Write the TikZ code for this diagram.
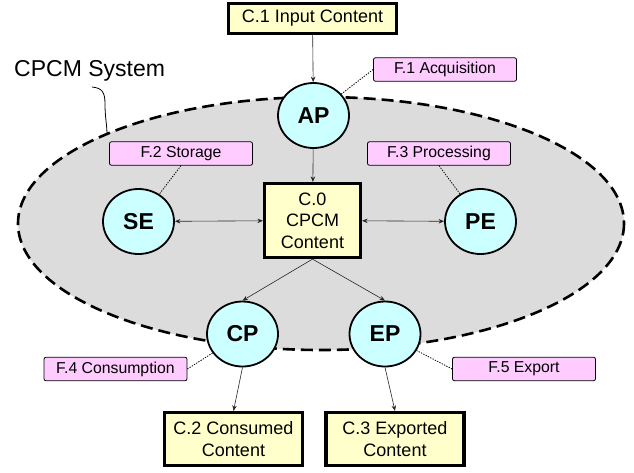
\documentclass[tikz,border=0pt]{standalone}
\usepackage{fontspec}
\setmainfont{Liberation Sans}
\usetikzlibrary{arrows.meta,shapes.geometric}
\definecolor{boxyel}{HTML}{FFFFCC}
\definecolor{cyanfill}{HTML}{CCFFFF}
\definecolor{pinkfill}{HTML}{FFCCFF}
\definecolor{sysgray}{HTML}{DCDCDC}
\begin{document}
\begin{tikzpicture}[x=1pt,y=-1pt,
  cbox/.style={draw, line width=3.2pt, fill=boxyel, align=center, inner sep=0pt,
    font=\fontsize{18}{21.5}\selectfont},
  proc/.style={ellipse, draw, line width=1.8pt, fill=cyanfill, inner sep=0pt,
    minimum width=71pt, minimum height=65pt, font=\fontsize{23}{25}\selectfont\bfseries},
  func/.style={draw, line width=0.8pt, fill=pinkfill, rounded corners=2pt, inner sep=0pt,
    minimum width=143pt, minimum height=23.5pt, font=\fontsize{15.8}{18}\selectfont},
  arr/.style={-{Stealth[length=5.5pt,width=4.5pt]}, line width=0.6pt, draw=black!85},
  darr/.style={{Stealth[length=5.5pt,width=4.5pt]}-{Stealth[length=5.5pt,width=4.5pt]}, line width=0.6pt, draw=black!85},
  link/.style={line width=0.8pt, dash pattern=on 1.3pt off 1.3pt},
  sysline/.style={line width=2.6pt, dash pattern=on 12pt off 6pt, fill=sysgray}
]
\useasboundingbox (0,0) rectangle (634,472);
\fill[white] (0,0) rectangle (634,472);

% system ellipse
\draw[sysline] (321,223.5) ellipse [x radius=303, y radius=126.5];
\node[anchor=west, inner sep=0pt, font=\fontsize{23}{25}\selectfont] (sys) at (14,71) {CPCM System};
\draw[line width=0.8pt] (92,87) .. controls (102,88) and (105,92) .. (105,104) .. controls (105,118) and (107,124) .. (107,135);

% content boxes
\node[cbox, minimum width=168pt, minimum height=30pt] (c1) at (312.5,18.5) {C.1 Input Content};
\node[cbox, minimum width=96pt, minimum height=74pt] (c0) at (312.5,220.5) {C.0\\CPCM\\Content};
\node[cbox, minimum width=138pt, minimum height=53pt] (c2) at (233.5,439) {C.2 Consumed\\Content};
\node[cbox, minimum width=138pt, minimum height=53pt] (c3) at (395,439) {C.3 Exported\\Content};

% process circles
\node[proc] (ap) at (313.5,115.5) {AP};
\node[proc] (se) at (138.5,221.5) {SE};
\node[proc] (pe) at (480.5,221.5) {PE};
\node[proc] (cp) at (242.5,334) {CP};
\node[proc] (ep) at (385,334) {EP};

% function labels
\node[func] (f1) at (445,69.5) {F.1 Acquisition};
\node[func] (f2) at (181,153.5) {F.2 Storage};
\node[func] (f3) at (439,153.5) {F.3 Processing};
\node[func] (f4) at (115.5,369) {F.4 Consumption};
\node[func] (f5) at (524,369) {F.5 Export};

% flows
\draw[arr] (c1) -- (ap);
\draw[arr] (ap) -- (c0);
\draw[darr] (se) -- (c0);
\draw[darr] (c0) -- (pe);
\draw[arr] (c0.south) -- (cp.north);
\draw[arr] (c0.south) -- (ep.north);
\draw[arr] (cp.south) -- (c2.north);
\draw[arr] (ep.south) -- (c3.north);

% dotted links
\draw[link] (f1.west) -- (ap);
\draw[link] (f2.south) -- (se);
\draw[link] (f3.south) -- (pe);
\draw[link] (f4.east) -- (cp);
\draw[link] (f5.west) -- (ep);
\end{tikzpicture}
\end{document}
